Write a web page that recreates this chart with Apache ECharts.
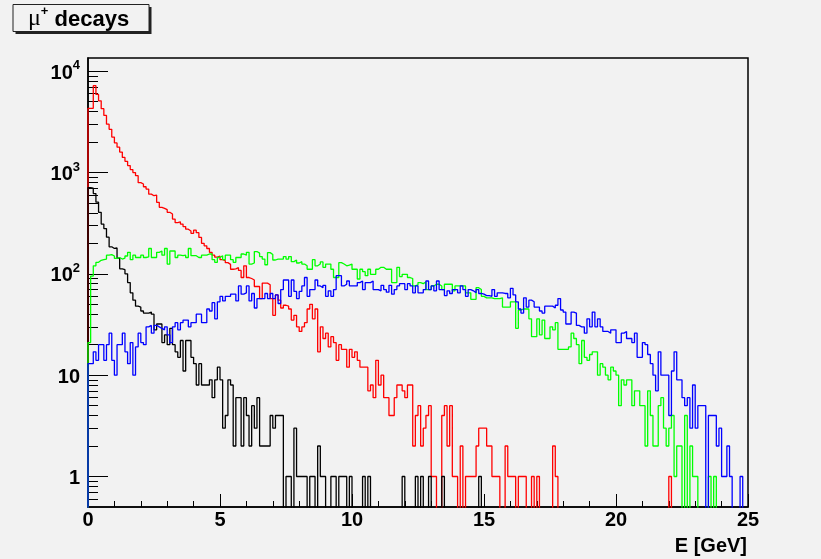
<!DOCTYPE html>
<html>
<head>
<meta charset="utf-8">
<title>mu+ decays</title>
<script src="https://cdn.jsdelivr.net/npm/echarts@6/dist/echarts.min.js"></script>
<style>
  html, body { margin: 0; padding: 0; background: #f2f2f2; }
  #main { width: 821px; height: 559px; }
</style>
</head>
<body>
<div id="main"></div>
<script>
// histogram: 250 bins of 0.1 GeV from 0 to 25 GeV (counts)
var binWidth = 0.1;
var xMin = 0;
var xMax = 25;

var redCounts = [
  4300, 4300, 7200, 5900, 5100, 4270, 3660, 3000, 2670, 2240,
  1960, 1780, 1590, 1410, 1290, 1170, 1070, 1000, 930, 794,
  770, 724, 686, 612, 590, 600, 508, 453, 443, 430,
  405, 390, 347, 320, 326, 310, 293, 276, 265, 251,
  270, 255, 229, 200, 189, 178, 163, 153, 146, 150,
  138, 135, 129, 124, 111, 112, 115, 108, 92, 120,
  92, 90, 87, 75, 75, 57, 81, 81, 78, 57,
  39, 62, 55, 46, 49, 48, 45, 35, 39, 30,
  27, 30, 33, 45, 50, 36, 45, 17, 30, 23,
  26, 19, 24, 21, 14, 20, 18, 18, 12, 18,
  15, 17, 14, 12, 12, 12, 7, 8, 6, 14,
  8, 10, 6, 6, 4, 4, 6, 8, 8, 7,
  6, 8, 8, 2, 4, 5, 2, 3, 4, 5,
  1, 1, 0, 0, 4, 5, 2, 5, 1, 1,
  0, 2, 0, 1, 1, 1, 1, 2, 3, 3,
  3, 2, 2, 1, 1, 1, 0, 0, 2, 1,
  1, 1, 0, 1, 1, 1, 0, 0, 1, 0,
  1, 0, 0, 0, 0, 0, 2, 1, 0, 0,
  0, 0, 0, 0, 0, 0, 0, 0, 0, 0,
  0, 0, 0, 0, 0, 0, 0, 0, 0, 0,
  0, 0, 0, 0, 0, 0, 0, 0, 0, 0,
  0, 0, 0, 0, 0, 0, 0, 0, 0, 0,
  1, 0, 0, 0, 0, 0, 0, 0, 0, 0,
  0, 0, 0, 0, 0, 0, 0, 0, 0, 0,
  0, 0, 0, 0, 0, 0, 0, 0, 0, 0
];

var blackCounts = [
  710, 700, 620, 510, 405, 310, 280, 230, 185, 178,
  180, 143, 112, 110, 100, 82, 65, 55, 48, 47,
  43, 41, 41, 42, 40, 28, 32, 32, 21, 25,
  20, 29, 20, 17, 15, 22, 11, 22, 22, 15,
  13, 8, 13, 8, 8, 8, 9, 6, 9, 12,
  9, 3, 4, 9, 8, 2, 6, 6, 2, 6,
  4, 2, 5, 3, 6, 2, 2, 2, 2, 4,
  3, 4, 4, 4, 0, 1, 1, 0, 3, 1,
  1, 1, 1, 0, 1, 1, 0, 2, 1, 1,
  0, 0, 1, 1, 0, 1, 1, 1, 0, 1,
  0, 0, 0, 0, 1, 0, 1, 0, 0, 0,
  0, 0, 0, 0, 0, 0, 0, 0, 0, 1,
  0, 0, 0, 0, 1, 0, 1, 0, 0, 1,
  0, 0, 0, 0, 1, 0, 0, 0, 0, 0,
  0, 0, 0, 0, 0, 0, 0, 0, 1, 0,
  0, 0, 0, 0, 0, 0, 0, 0, 0, 0,
  0, 0, 0, 0, 0, 0, 0, 0, 0, 0,
  0, 0, 0, 0, 0, 0, 0, 0, 0, 0,
  0, 0, 0, 0, 0, 0, 0, 0, 0, 0,
  0, 0, 0, 0, 0, 0, 0, 0, 0, 0,
  0, 0, 0, 0, 0, 0, 0, 0, 0, 0,
  0, 0, 0, 0, 0, 0, 0, 0, 0, 0,
  0, 0, 0, 0, 0, 0, 0, 0, 0, 0,
  0, 0, 0, 0, 0, 0, 0, 0, 0, 0,
  0, 0, 0, 0, 0, 0, 0, 0, 0, 0
];

var greenCounts = [
  21, 95, 120, 130, 136, 138, 140, 153, 155, 150,
  142, 145, 140, 143, 150, 163, 138, 153, 145, 145,
  153, 145, 147, 178, 145, 145, 163, 168, 153, 178,
  125, 168, 168, 145, 153, 151, 153, 145, 178, 151,
  151, 145, 145, 153, 153, 157, 157, 138, 130, 145,
  151, 138, 153, 153, 138, 130, 145, 145, 157, 153,
  163, 125, 128, 166, 160, 148, 140, 123, 162, 155,
  137, 140, 140, 140, 148, 140, 148, 132, 137, 128,
  132, 125, 120, 111, 111, 138, 120, 125, 131, 116,
  125, 125, 111, 92, 92, 129, 125, 120, 122, 125,
  111, 111, 89, 111, 105, 96, 111, 99, 99, 111,
  116, 116, 111, 111, 111, 82, 82, 116, 94, 99,
  99, 92, 90, 76, 78, 82, 80, 83, 70, 70,
  76, 79, 79, 76, 70, 79, 79, 79, 68, 76,
  76, 76, 76, 65, 65, 56, 56, 73, 70, 60,
  58, 58, 58, 57, 57, 57, 58, 47, 47, 47,
  53, 53, 29, 44, 45, 45, 45, 36, 24, 24,
  36, 25, 35, 23, 23, 30, 28, 33, 18, 18,
  18, 18, 19, 26, 23, 20, 13, 22, 15, 14,
  16, 17, 17, 10, 13, 12, 10, 9, 12, 11,
  10, 5, 9, 8, 9, 9, 5, 7, 7, 5,
  5, 2, 7, 4, 2, 2, 5, 6, 3, 2,
  3, 4, 1, 2, 2, 0, 4, 0, 2, 1,
  1, 0, 0, 0, 0, 1, 0, 1, 0, 0,
  0, 0, 0, 0, 0, 0, 0, 0, 0, 0
];

var blueCounts = [
  13, 13, 17, 14, 20, 20, 14, 20, 26, 14,
  10, 20, 20, 26, 17, 13, 21, 10, 19, 26,
  21, 20, 30, 31, 26, 31, 30, 29, 28, 30,
  25, 21, 30, 33, 28, 33, 35, 35, 30, 33,
  33, 40, 40, 33, 33, 45, 43, 52, 36, 53,
  60, 54, 60, 60, 63, 63, 54, 76, 63, 65,
  76, 54, 64, 46, 57, 57, 57, 64, 57, 64,
  57, 62, 51, 70, 87, 87, 60, 87, 67, 57,
  67, 76, 92, 60, 70, 70, 87, 76, 73, 77,
  60, 68, 60, 70, 96, 96, 76, 79, 85, 76,
  76, 76, 82, 85, 70, 82, 82, 85, 70, 70,
  68, 77, 70, 66, 77, 63, 70, 76, 80, 80,
  70, 80, 76, 65, 76, 65, 65, 70, 85, 70,
  76, 68, 85, 70, 70, 61, 68, 64, 70, 70,
  65, 76, 70, 60, 70, 68, 65, 70, 64, 63,
  61, 61, 60, 70, 60, 65, 65, 64, 64, 58,
  72, 62, 53, 45, 41, 58, 47, 55, 53, 47,
  47, 43, 41, 48, 48, 48, 46, 49, 57, 44,
  42, 32, 32, 42, 41, 31, 30, 30, 26, 36,
  30, 42, 30, 36, 30, 27, 27, 26, 28, 28,
  21, 21, 26, 27, 23, 23, 21, 26, 15, 15,
  21, 20, 16, 13, 10, 7, 17, 10, 10, 10,
  4, 11, 17, 9, 9, 6, 5, 6, 3, 8,
  3, 5, 5, 5, 0, 4, 4, 4, 2, 3,
  1, 1, 2, 1, 0, 0, 0, 1, 0, 0
];

// log axis
var yMin = 0.5;
var yMax = 13500;
var yMajorTicks = [1, 10, 100, 1000, 10000];
var yMinorTicks = [0.6, 0.7, 0.8, 0.9,
  2, 3, 4, 5, 6, 7, 8, 9,
  20, 30, 40, 50, 60, 70, 80, 90,
  200, 300, 400, 500, 600, 700, 800, 900,
  2000, 3000, 4000, 5000, 6000, 7000, 8000, 9000];

var FLOOR = 0.05; // empty bins drop below the frame (log axis)
var FONT = 'Liberation Sans, Arial, Helvetica, sans-serif';

// turn bin counts into a closed step outline like ROOT draws it
function histPoints(counts) {
  var pts = [[xMin, FLOOR]];
  for (var i = 0; i < counts.length; i++) {
    pts.push([xMin + i * binWidth, counts[i] > 0 ? counts[i] : FLOOR]);
  }
  pts.push([xMin + counts.length * binWidth, FLOOR]);
  return pts;
}

function histSeries(name, counts, color) {
  return {
    name: name,
    type: 'line',
    step: 'end',
    symbol: 'none',
    clip: true,
    data: histPoints(counts),
    lineStyle: { color: color, width: 1.3 },
    emphasis: { disabled: true }
  };
}

var myChart = echarts.init(document.getElementById('main'));
var option = {
  backgroundColor: '#f2f2f2',
  animation: false,
  grid: {
    left: 88, right: 73, top: 58, bottom: 52,
    show: true,
    borderColor: '#000',
    borderWidth: 1.5
  },
  xAxis: {
    type: 'value',
    min: xMin,
    max: xMax,
    interval: 5,
    axisLine: { lineStyle: { color: '#000', width: 1.5 } },
    axisTick: { inside: true, length: 13, lineStyle: { color: '#000' } },
    minorTick: { show: true, splitNumber: 5, length: 6, lineStyle: { color: '#000' } },
    splitLine: { show: false },
    axisLabel: {
      color: '#000', fontFamily: FONT, fontWeight: 'bold', fontSize: 20, margin: 3
    }
  },
  yAxis: [{
    type: 'log',
    logBase: 10,
    min: yMin,
    max: yMax,
    axisLine: { lineStyle: { color: '#000', width: 1.5 } },
    axisTick: { inside: true, length: 20, customValues: yMajorTicks, lineStyle: { color: '#000' } },
    splitLine: { show: false },
    axisLabel: {
      customValues: yMajorTicks,
      margin: 8,
      color: '#000',
      formatter: function (v) {
        var e = Math.round(Math.log(v) / Math.LN10);
        if (e === 0) return '{b|1}';
        if (e === 1) return '{b|10}';
        return '{b|10}{sup|' + e + '}';
      },
      rich: {
        b: { fontFamily: FONT, fontWeight: 'bold', fontSize: 20, color: '#000', lineHeight: 24, verticalAlign: 'bottom' },
        sup: { fontFamily: FONT, fontWeight: 'bold', fontSize: 13, color: '#000', lineHeight: 13, verticalAlign: 'top' }
      }
    }
  }, {
    // minor ticks of the log axis
    type: 'log',
    logBase: 10,
    min: yMin,
    max: yMax,
    position: 'left',
    axisLine: { show: false },
    axisTick: { inside: true, length: 10, customValues: yMinorTicks, lineStyle: { color: '#000' } },
    splitLine: { show: false },
    axisLabel: { show: false }
  }],
  series: [
    histSeries('red', redCounts, '#ff0000'),
    histSeries('black', blackCounts, '#000000'),
    histSeries('green', greenCounts, '#00ff00'),
    histSeries('blue', blueCounts, '#0000ff')
  ],
  graphic: [
    // title pave with shadow
    { type: 'rect', shape: { x: 15.5, y: 7, width: 136, height: 27 }, style: { fill: '#222' }, silent: true },
    { type: 'rect', shape: { x: 13, y: 4.5, width: 136, height: 27 }, style: { fill: '#f2f2f2', stroke: '#222', lineWidth: 1 }, silent: true },
    {
      type: 'text', x: 28, y: 18,
      style: {
        text: '{mu|μ}{sup|+}{b| decays}',
        verticalAlign: 'middle',
        rich: {
          mu: { fontFamily: 'Liberation Serif, DejaVu Serif, serif', fontSize: 24, fill: '#000', lineHeight: 26, verticalAlign: 'bottom' },
          sup: { fontFamily: FONT, fontWeight: 'bold', fontSize: 13, fill: '#000', lineHeight: 13, verticalAlign: 'top' },
          b: { fontFamily: FONT, fontWeight: 'bold', fontSize: 22, fill: '#000', lineHeight: 26, verticalAlign: 'bottom' }
        }
      },
      silent: true
    },
    // x axis title
    {
      type: 'text', x: 747, y: 546,
      style: {
        text: 'E [GeV]', fill: '#000',
        font: 'bold 20px ' + FONT,
        align: 'right', verticalAlign: 'middle'
      },
      silent: true
    }
  ]
};
myChart.setOption(option);
</script>
</body>
</html>
